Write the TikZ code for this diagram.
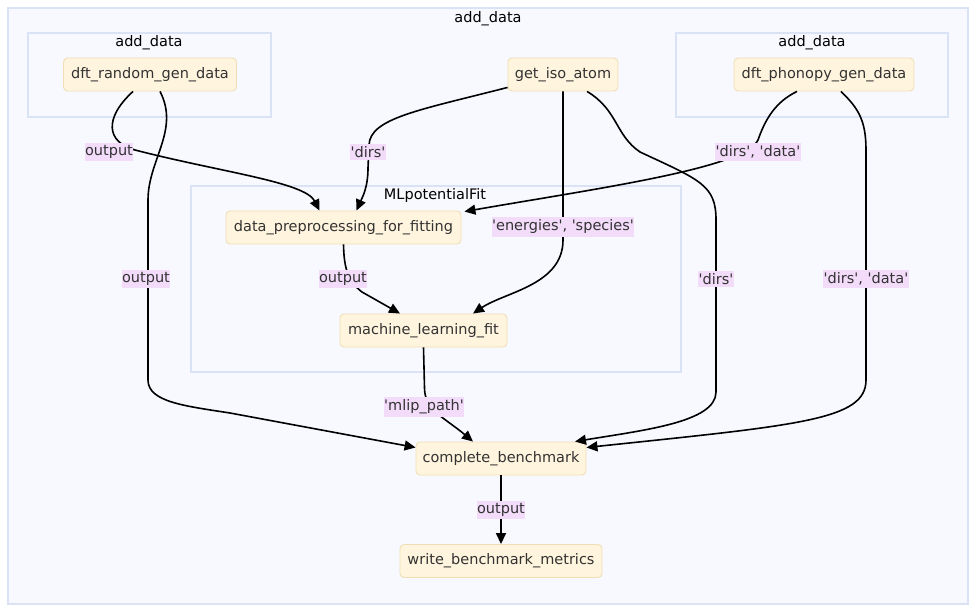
\documentclass[tikz,border=0pt]{standalone}
\usepackage{fontspec}
\setmainfont{DejaVu Sans}
\usetikzlibrary{arrows.meta, positioning}
\definecolor{taskfill}{HTML}{FFF4DD}
\definecolor{taskline}{HTML}{EEDFB6}
\definecolor{groupfill}{HTML}{F8F9FE}
\definecolor{groupline}{HTML}{DAE3F6}
\definecolor{labelfill}{HTML}{F3DBFA}
\definecolor{textgray}{HTML}{333333}
\newcommand{\q}{\textquotesingle}

\begin{document}
\begin{tikzpicture}[x=1pt, y=-1pt,
  task/.style={draw=taskline, fill=taskfill, rounded corners=4pt, line width=0.9pt, minimum height=33pt, inner xsep=6pt, font=\fontsize{14.5}{17}\selectfont, text=textgray},
  group/.style={draw=groupline, fill=groupfill, line width=1.3pt},
  gtitle/.style={font=\fontsize{14.5}{17}\selectfont, text=black},
  elabel/.style={fill=labelfill, inner xsep=0.5pt, inner ysep=2.5pt, font=\fontsize{14.5}{17}\selectfont, text=textgray},
  flow/.style={line width=1.6pt, -{Triangle[length=11pt,width=10pt]}}
]
  \useasboundingbox (0,0) rectangle (976,612);
  \fill[white] (0,0) rectangle (976,612);

  \draw[group] (8,8) rectangle (968,604);
  \node[gtitle] (tMain) at (488,18.5) {add\_data};
  \draw[group] (28,33) rectangle (271,117);
  \node[gtitle] (tLeft) at (149,42.5) {add\_data};
  \draw[group] (676,33) rectangle (948,117);
  \node[gtitle] (tRight) at (812,42.5) {add\_data};
  \draw[group] (191,186) rectangle (681,372);
  \node[gtitle] (tFit) at (435,195.5) {MLpotentialFit};

  \node[task, minimum width=173pt] (rand) at (150,74.5) {dft\_random\_gen\_data};
  \node[task, minimum width=110pt] (iso) at (563,74.5) {get\_iso\_atom};
  \node[task, minimum width=180pt] (phon) at (824,74.5) {dft\_phonopy\_gen\_data};
  \node[task, minimum width=235pt] (prep) at (343.5,227.5) {data\_preprocessing\_for\_fitting};
  \node[task, minimum width=167pt] (mlfit) at (423.5,330.5) {machine\_learning\_fit};
  \node[task, minimum width=170pt] (bench) at (501,458.5) {complete\_benchmark};
  \node[task, minimum width=202pt] (metrics) at (501,561) {write\_benchmark\_metrics};

  \coordinate (lRandPrep) at (109,152);
  \coordinate (lRandBench) at (146,279);
  \coordinate (lIsoPrep) at (368,152);
  \coordinate (lPhonPrep) at (758,152);
  \coordinate (lIsoFit) at (563,227);
  \coordinate (lPrepFit) at (343,279);
  \coordinate (lIsoBench) at (716,279);
  \coordinate (lPhonBench) at (866,279);
  \coordinate (lFitBench) at (424,407);
  \coordinate (lBenchOut) at (501,510);

  \draw[flow] ([xshift=-17pt]rand.south) .. controls (104,118) and (106,142) .. (135,150)
    .. controls (220,172) and (305,182) .. ([xshift=-24pt]prep.north);
  \draw[flow] ([xshift=10pt]rand.south) .. controls (180,130) and (148,160) .. (148,200)
    -- (148,380) .. controls (148,402) and (185,406) .. (230,413) -- ([yshift=11pt]bench.west);
  \draw[flow] ([yshift=4pt]iso.south west) .. controls (420,110) and (370,118) .. (369,145)
    -- (368,168) .. controls (368,188) and (362,198) .. ([xshift=13pt]prep.north);
  \draw[flow] (iso.south) -- (563,240) .. controls (563,285) and (505,292) .. ([xshift=49.5pt]mlfit.north);
  \draw[flow] ([xshift=24pt]iso.south) .. controls (618,110) and (615,135) .. (640,152)
    .. controls (700,180) and (716,185) .. (716,220) -- (716,392)
    .. controls (716,422) and (645,430) .. ([xshift=74pt]bench.north);
  \draw[flow] ([xshift=-27pt]phon.south) .. controls (775,102) and (765,120) .. (758,140)
    .. controls (745,168) and (600,188) .. ([xshift=3pt,yshift=-1pt]prep.north east);
  \draw[flow] ([xshift=17pt]phon.south) .. controls (858,108) and (866,120) .. (866,150)
    -- (866,380) .. controls (866,420) and (800,425) .. ([yshift=11pt]bench.east);
  \draw[flow] (prep.south) .. controls (344,264) and (346,280) .. (362,292) -- ([xshift=-23.5pt]mlfit.north);
  \draw[flow] (mlfit.south) -- (424.5,388) .. controls (424.5,410) and (445,418) .. ([xshift=-28pt]bench.north);
  \draw[flow] (bench.south) -- (metrics.north);

  \node[elabel] at (lRandPrep) {output};
  \node[elabel] at (lRandBench) {output};
  \node[elabel] at (lIsoPrep) {\q dirs\q};
  \node[elabel] at (lPhonPrep) {\q dirs\q, \q data\q};
  \node[elabel] at (lIsoFit) {\q energies\q, \q species\q};
  \node[elabel] at (lPrepFit) {output};
  \node[elabel] at (lIsoBench) {\q dirs\q};
  \node[elabel] at (lPhonBench) {\q dirs\q, \q data\q};
  \node[elabel] at (lFitBench) {\q mlip\_path\q};
  \node[elabel] at (lBenchOut) {output};
\end{tikzpicture}
\end{document}
